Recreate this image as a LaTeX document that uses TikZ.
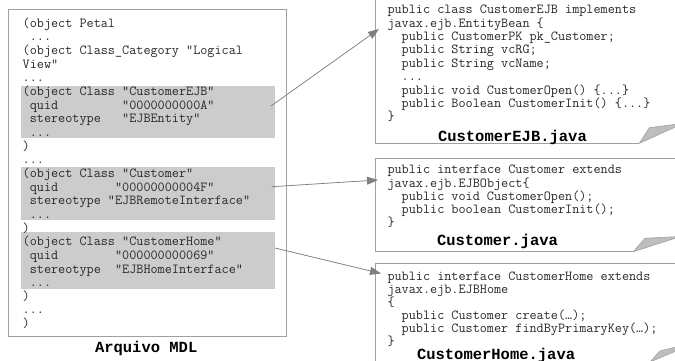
\documentclass[tikz,border=0pt]{standalone}
\usepackage{fontspec}
\newfontfamily\capfont{Liberation Mono}
\usetikzlibrary{arrows.meta}
\newcommand\mydots{...}
\definecolor{framec}{RGB}{160,160,160}
\definecolor{hlc}{RGB}{204,204,204}
\definecolor{curlc}{RGB}{190,190,190}
\definecolor{linec}{RGB}{128,128,128}
\definecolor{txtc}{RGB}{40,40,40}
\tikzset{
  code/.style={anchor=base west, inner sep=0pt, outer sep=0pt, text=txtc,
    font=\ttfamily\fontsize{13.8}{16}\selectfont},
  captxt/.style={anchor=base west, inner sep=0pt, outer sep=0pt, text=black,
    font=\capfont\bfseries\fontsize{15.5}{18}\selectfont},
  hl/.style={fill=hlc, draw=none, anchor=north west, inner sep=0pt, outer sep=0pt},
  frame/.style={draw=framec, line width=0.9pt, fill=none, anchor=north west, inner sep=0pt, outer sep=0pt},
  docedge/.style={draw=framec, line width=0.9pt},
  curl/.style={draw=framec, fill=curlc, line width=0.6pt, line join=round},
  conn/.style={draw=linec, line width=0.7pt, -{Triangle[length=11pt,width=8pt]}, fill=linec}
}
\begin{document}
\begin{tikzpicture}[x=1pt,y=-1pt]
\clip (0,0) rectangle (675,361);
\useasboundingbox (0,0) rectangle (675,361);
\fill[white] (0,0) rectangle (675,361);

% highlighted blocks in MDL file
\node[hl, minimum width=254pt, minimum height=52pt] (b1) at (21,86) {};
\node[hl, minimum width=254pt, minimum height=53pt] (b2) at (21,167) {};
\node[hl, minimum width=254pt, minimum height=57pt] (b3) at (21,232) {};

% MDL file frame
\node[frame, minimum width=278pt, minimum height=327pt] (mdl) at (8,9) {};

\foreach \t [count=\i] in {
  {(object Petal},
  {~\mydots},
  {(object Class\_Category "Logical},
  {View"},
  {\mydots},
  {(object Class "CustomerEJB"},
  {~quid~~~~~~~~~"0000000000A"},
  {~stereotype~~~"EJBEntity"},
  {~\mydots},
  {)},
  {\mydots},
  {(object Class "Customer"},
  {~quid~~~~~~~~"00000000004F"},
  {~stereotype~"EJBRemoteInterface"},
  {~\mydots},
  {)},
  {(object Class "CustomerHome"},
  {~quid~~~~~~~~"000000000069"},
  {~stereotype~~"EJBHomeInterface"},
  {~\mydots},
  {)},
  {\mydots},
  {)}}
  \node[code] (m\i) at (22.7,{27.3+13.65*(\i-1)}) {\t};

\node[captxt] (mdlcap) at (95,352) {Arquivo MDL};

% document 1: CustomerEJB.java
\draw[docedge] (680,-5) -- (375,-5) -- (375,143.3) -- (639.3,143.3);
\draw[curl] (639.3,143.3) -- (649.3,127.7) -- (676,124.3) -- (676,126.7) -- cycle;
\foreach \t [count=\i] in {
  {public class CustomerEJB implements},
  {javax.ejb.EntityBean \{},
  {~~public CustomerPK pk\_Customer;},
  {~~public String vcRG;},
  {~~public String vcName;},
  {~~\mydots},
  {~~public void CustomerOpen() \{\mydots\}},
  {~~public Boolean CustomerInit() \{\mydots\}},
  {\}}}
  \node[code] (ra\i) at (387.5,{13.8+13.4*(\i-1)}) {\t};
\node[captxt] (racap) at (438,141.5) {CustomerEJB.java};

% document 2: Customer.java
\draw[docedge] (680,158) -- (375,158) -- (375,251.7) -- (633.3,251.7);
\draw[curl] (633.3,251.7) -- (645,238.3) -- (676,236.7) -- (676,238) -- cycle;
\foreach \t [count=\i] in {
  {public interface Customer extends},
  {javax.ejb.EJBObject\{},
  {~~public void CustomerOpen();},
  {~~public boolean CustomerInit();},
  {\}}}
  \node[code] (rb\i) at (387.5,{173.8+13.25*(\i-1)}) {\t};
\node[captxt] (rbcap) at (437,245.5) {Customer.java};

% document 3: CustomerHome.java
\draw[docedge] (680,263) -- (375,263) -- (375,366);
\draw[curl] (650,362) -- (660,351) -- (676,347) -- (676,351) -- cycle;
\foreach \t [count=\i] in {
  {public interface CustomerHome extends},
  {javax.ejb.EJBHome},
  {\{},
  {~~public Customer create(…);},
  {~~public Customer findByPrimaryKey(…);},
  {\}}}
  \node[code] (rc\i) at (387.5,{280.8+13*(\i-1)}) {\t};
\node[captxt] (rccap) at (417,359) {CustomerHome.java};

% connectors
\coordinate (s1) at (271,106);
\coordinate (t1) at (379,29);
\coordinate (s2) at (272,186.7);
\coordinate (t2) at (378,180);
\coordinate (s3) at (275,248);
\coordinate (t3) at (381,273.5);
\draw[conn] (s1) -- (t1);
\draw[conn] (s2) -- (t2);
\draw[conn] (s3) -- (t3);
\end{tikzpicture}
\end{document}
